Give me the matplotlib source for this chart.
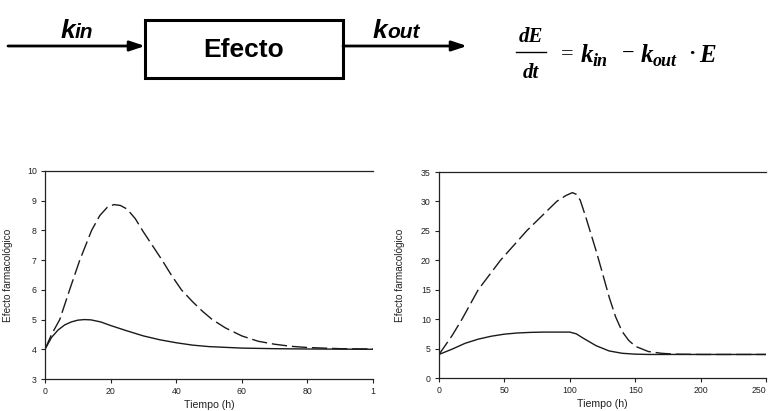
import matplotlib
matplotlib.use("Agg")
import matplotlib.pyplot as plt
from matplotlib.patches import Rectangle

# ---------------- data ----------------
t_left_dash = [0, 2, 4.5, 7.5, 10.6, 14.2, 16.7, 19, 21, 23, 25, 27.5, 30, 33, 35.7,
               38.5, 41.6, 45, 48, 51, 55, 60, 65, 70, 75, 80, 90, 100]
e_left_dash = [4.0, 4.5, 5.0, 6.0, 7.0, 8.0, 8.5, 8.78, 8.87, 8.84, 8.72, 8.4, 7.95, 7.45, 7.0,
               6.5, 6.0, 5.6, 5.28, 5.0, 4.72, 4.45, 4.27, 4.17, 4.1, 4.06, 4.02, 4.01]
t_left_solid = [0, 2, 4, 6, 8, 10, 12, 14, 17, 20, 25, 30, 35, 40, 45, 50, 60, 70, 80, 100]
e_left_solid = [4.0, 4.4, 4.65, 4.82, 4.92, 4.98, 5.0, 4.99, 4.92, 4.8, 4.62, 4.45, 4.32,
                4.22, 4.14, 4.09, 4.04, 4.02, 4.01, 4.0]

t_right_dash = [0, 5, 10, 17.6, 30, 47, 67, 90, 97, 102, 105, 108, 112, 116, 120, 125, 130,
                135, 140, 145, 150, 160, 170, 180, 200, 250]
e_right_dash = [4.0, 5.6, 7.2, 10.0, 15.0, 20.0, 25.0, 30.0, 31.0, 31.5, 31.2, 30.2, 27.5,
                24.6, 21.7, 17.8, 13.8, 10.4, 7.9, 6.4, 5.4, 4.5, 4.2, 4.05, 4.0, 4.0]
t_right_solid = [0, 10, 20, 30, 40, 50, 60, 70, 80, 90, 100, 105, 110, 120, 130, 140, 150,
                 160, 200, 250]
e_right_solid = [4.0, 4.9, 5.9, 6.6, 7.1, 7.45, 7.65, 7.75, 7.8, 7.8, 7.8, 7.5, 6.8, 5.5,
                 4.6, 4.2, 4.05, 4.0, 4.0, 4.0]

left_xticks = [0, 20, 40, 60, 80, 100]
left_xticklabels = ["0", "20", "40", "60", "80", "1"]
left_yticks = [3, 4, 5, 6, 7, 8, 9, 10]
right_xticks = [0, 50, 100, 150, 200, 250]
right_yticks = [0, 5, 10, 15, 20, 25, 30, 35]

ylabel_text = "Efecto farmacológico"
xlabel_text = "Tiempo (h)"

# ---------------- figure ----------------
plt.rcParams['font.family'] = ['Liberation Sans', 'DejaVu Sans']
W, H = 770, 411
fig = plt.figure(figsize=(W / 100, H / 100), dpi=100)


def axes_px(x0, y0, x1, y1):
    return fig.add_axes([x0 / W, 1 - y1 / H, (x1 - x0) / W, (y1 - y0) / H])


DASH = (0, (11, 3.5))
LC = '#1a1a1a'


def style(ax):
    ax.spines['right'].set_visible(False)
    for s in ['left', 'bottom', 'top']:
        ax.spines[s].set_linewidth(0.9)
        ax.spines[s].set_color('#222222')
    ax.tick_params(direction='out', length=3, width=0.8, labelsize=6.3, pad=3,
                   colors='#222222', right=False, top=False)
    ax.set_ylabel(ylabel_text, fontsize=7.2, color='#222222')
    ax.set_xlabel(xlabel_text, fontsize=7.6, color='#222222')


# left chart
axL = axes_px(45, 171, 373, 379)
axL.plot(t_left_dash, e_left_dash, color=LC, lw=1.0, linestyle=DASH)
axL.plot(t_left_solid, e_left_solid, color=LC, lw=1.0)
axL.set_xlim(0, 100)
axL.set_ylim(3, 10)
axL.set_xticks(left_xticks)
axL.set_xticklabels(left_xticklabels)
axL.set_yticks(left_yticks)
style(axL)
axL.yaxis.set_label_coords(-0.098, 0.5)
axL.xaxis.set_label_coords(0.5, -0.10)

# right chart
axR = axes_px(439, 172, 766, 378)
axR.plot(t_right_dash, e_right_dash, color=LC, lw=1.0, linestyle=DASH)
axR.plot(t_right_solid, e_right_solid, color=LC, lw=1.0)
axR.set_xlim(0, 250)
axR.set_ylim(0, 35)
axR.set_xticks(right_xticks)
axR.set_yticks(right_yticks)
style(axR)
axR.yaxis.set_label_coords(-0.104, 0.5)
axR.xaxis.set_label_coords(0.5, -0.10)
axR.get_xticklabels()[-1].set_horizontalalignment('right')

# ---------------- top diagram ----------------
ov = fig.add_axes([0, 0, 1, 1], zorder=-1)
ov.set_xlim(0, W)
ov.set_ylim(H, 0)
ov.axis('off')

arrow_props = dict(arrowstyle='-|>,head_length=0.9,head_width=0.3', lw=2.0,
                   color='black', shrinkA=0, shrinkB=0)
ov.annotate('', xy=(145, 46), xytext=(8, 46), arrowprops=arrow_props)
ov.annotate('', xy=(467, 46), xytext=(343, 46), arrowprops=arrow_props)

ov.add_patch(Rectangle((145, 20), 198, 58, fill=False, lw=2.2, edgecolor='black'))
ov.text(244, 57, "Efecto", fontsize=19, fontweight='bold', ha='center', va='baseline')

sans_bi = dict(fontweight='bold', fontstyle='italic', va='baseline', color='black')
ov.text(61, 38, "k", fontsize=19, **sans_bi)
ov.text(75, 38, "in", fontsize=15, **sans_bi)
ov.text(373, 38, "k", fontsize=19, **sans_bi)
ov.text(387, 38, "out", fontsize=15, **sans_bi)

serif_bi = dict(family=['Liberation Serif', 'DejaVu Serif'], fontweight='bold',
                fontstyle='italic', va='baseline', color='black')
ov.text(531, 42, "dE", fontsize=15, ha='center', **serif_bi)
ov.plot([516, 546], [52, 52], color='black', lw=1.0)
ov.text(531, 78, "dt", fontsize=15, ha='center', **serif_bi)
ov.text(567, 59, "=", fontsize=16, ha='center',
        family=['Liberation Serif', 'DejaVu Serif'], va='baseline')
ov.text(581, 62, "k", fontsize=18, ha='left', **serif_bi)
ov.text(593, 66, "in", fontsize=13, ha='left', **serif_bi)
ov.text(628, 59, "\u2212", fontsize=16, ha='center',
        family=['Liberation Serif', 'DejaVu Serif'], va='baseline')
ov.text(641, 62, "k", fontsize=18, ha='left', **serif_bi)
ov.text(653, 66, "out", fontsize=13, ha='left', **serif_bi)
ov.text(692, 59, "\u00b7", fontsize=16, ha='center',
        family=['Liberation Serif', 'DejaVu Serif'], va='baseline', fontweight='bold')
ov.text(699, 62, "E", fontsize=18, ha='left', **serif_bi)

fig.savefig("out.png", dpi=100)
